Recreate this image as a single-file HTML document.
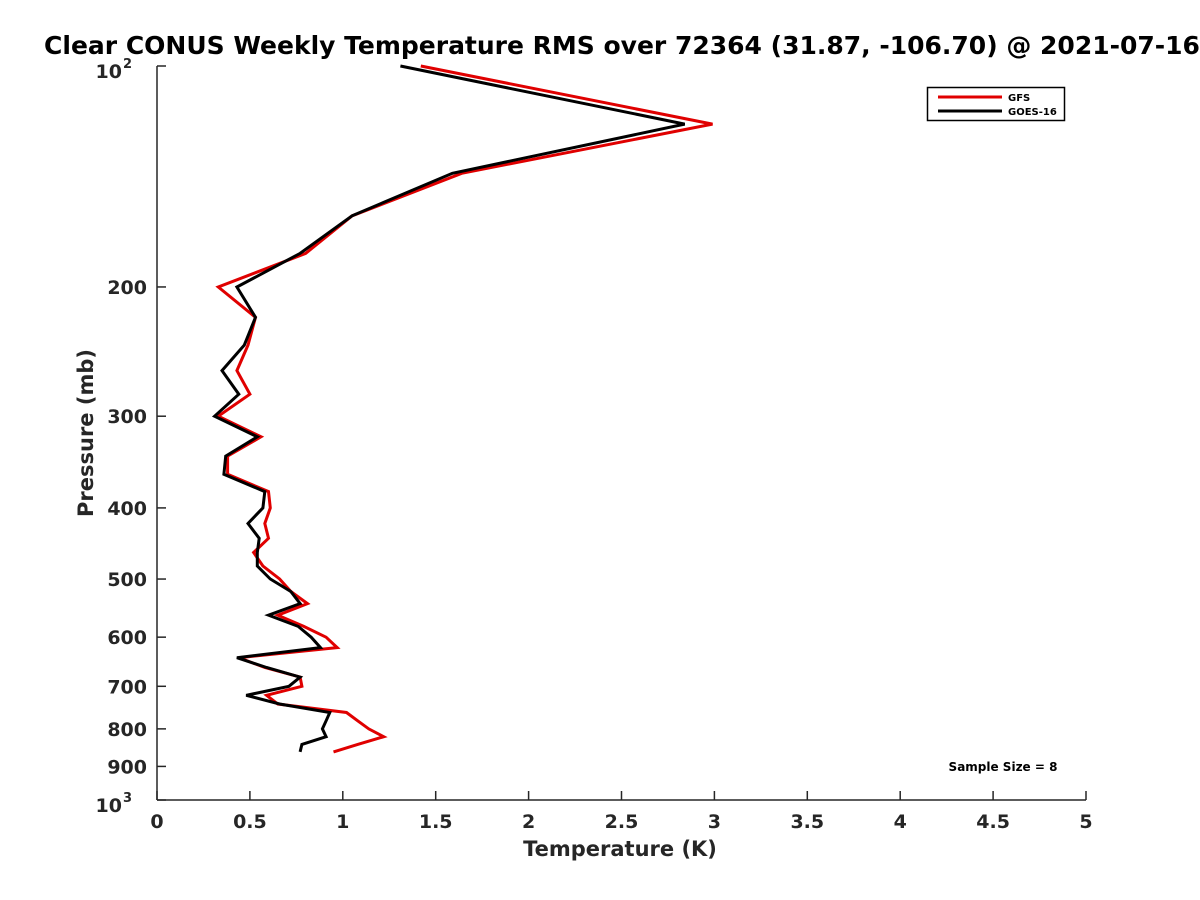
<!DOCTYPE html>
<html><head><meta charset="utf-8"><style>
body{margin:0;background:#fff;}
svg{display:block;font-family:"DejaVu Sans","Liberation Sans",sans-serif;font-weight:bold;}
</style></head><body>
<svg id="chart" width="1200" height="900" viewBox="0 0 1200 900">
<text x="622" y="54" text-anchor="middle" font-size="25" fill="#000">Clear CONUS Weekly Temperature RMS over 72364 (31.87, -106.70) @ 2021-07-16</text>
<g id="axes"></g>
<g id="series"></g>
<text x="620" y="856" text-anchor="middle" font-size="21" fill="#262626">Temperature (K)</text>
<text transform="translate(93,433) rotate(-90)" text-anchor="middle" font-size="21" fill="#262626">Pressure (mb)</text>
<text x="1003" y="771" text-anchor="middle" font-size="12" fill="#000">Sample Size = 8</text>
<g>
<rect x="927.5" y="87.5" width="137" height="33" fill="#fff" stroke="#000" stroke-width="1.5"/>
<line x1="938" y1="97" x2="1002" y2="97" stroke="#e00000" stroke-width="3"/>
<text x="1008" y="101" font-size="10" fill="#000">GFS</text>
<line x1="938" y1="111" x2="1002" y2="111" stroke="#000" stroke-width="3"/>
<text x="1008" y="115" font-size="10" fill="#000">GOES-16</text>
</g>
</svg>
<script>
const pressures = [100,120,140,160,180,200,220,240,260,280,300,320,340,360,380,400,420,440,460,480,500,520,540,560,580,600,620,640,660,680,700,720,740,760,780,800,820,840,860];
const gfsValues = [1.42,2.99,1.64,1.05,0.80,0.33,0.53,0.49,0.43,0.50,0.33,0.56,0.38,0.38,0.60,0.61,0.58,0.60,0.52,0.57,0.66,0.72,0.81,0.65,0.79,0.91,0.97,0.44,0.58,0.77,0.78,0.59,0.65,1.02,1.08,1.14,1.22,1.08,0.95];
const goesValues = [1.31,2.84,1.59,1.05,0.77,0.43,0.53,0.47,0.35,0.44,0.31,0.54,0.37,0.36,0.58,0.57,0.49,0.55,0.54,0.54,0.61,0.72,0.77,0.60,0.76,0.83,0.88,0.43,0.59,0.77,0.71,0.48,0.66,0.93,0.91,0.89,0.91,0.78,0.77];
const xTicks = [0,0.5,1,1.5,2,2.5,3,3.5,4,4.5,5];
const yTicks = [200,300,400,500,600,700,800,900];

const L=157,R=1086,T=66,B=800;
const xScale=v=>L+(v-0)/(5-0)*(R-L);
const yScale=p=>T+Math.log10(p/100)*(B-T);
const NS="http://www.w3.org/2000/svg";
const axes=document.getElementById('axes');
const ser=document.getElementById('series');
function mk(tag,attrs,parent){const e=document.createElementNS(NS,tag);for(const k in attrs)e.setAttribute(k,attrs[k]);parent.appendChild(e);return e;}

const xa=mk('line',{x1:L,y1:B,x2:R,y2:B,stroke:'#262626','stroke-width':1.5},axes);


const ya=mk('line',{x1:L,y1:T,x2:L,y2:B,stroke:'#262626','stroke-width':1.5},axes);



xTicks.forEach(v=>{
  const x=xScale(v);
  const t=mk('line',{x1:x,y1:B,x2:x,y2:B-9,stroke:'#262626','stroke-width':1.5},axes);
  
  
  const lb=mk('text',{x:x,y:B+28,'text-anchor':'middle','font-size':19,fill:'#262626'},axes);
  lb.textContent=String(v);
  
  
});
yTicks.concat([100,1000]).forEach(p=>{
  const y=yScale(p);
  const t=mk('line',{x1:L,y1:y,x2:L+9,y2:y,stroke:'#262626','stroke-width':1.5},axes);
  
  
});
yTicks.forEach(p=>{
  const y=yScale(p);
  const lb=mk('text',{x:L-10,y:y+7,'text-anchor':'end','font-size':19,fill:'#262626'},axes);
  lb.textContent=String(p);
  
  
});
[[100,'2'],[1000,'3']].forEach(([p,e])=>{
  const y=yScale(p);
  const lb=mk('text',{x:L-35,y:y+12,'text-anchor':'end','font-size':19,fill:'#262626'},axes);
  lb.textContent='10';
  
  
  const ex=mk('text',{x:L-34,y:y+2,'font-size':13,fill:'#262626'},axes);
  ex.textContent=e;
  
  
});

function drawLine(vals,color,name){
  const pts=vals.map((v,i)=>xScale(v).toFixed(1)+','+yScale(pressures[i]).toFixed(1)).join(' ');
  const pl=mk('polyline',{points:pts,fill:'none',stroke:color,'stroke-width':3,'stroke-linejoin':'miter'},ser);
  
  
}
drawLine(gfsValues,'#e00000','gfs-line');
drawLine(goesValues,'#000000','goes-16-line');
</script>
</body></html>
